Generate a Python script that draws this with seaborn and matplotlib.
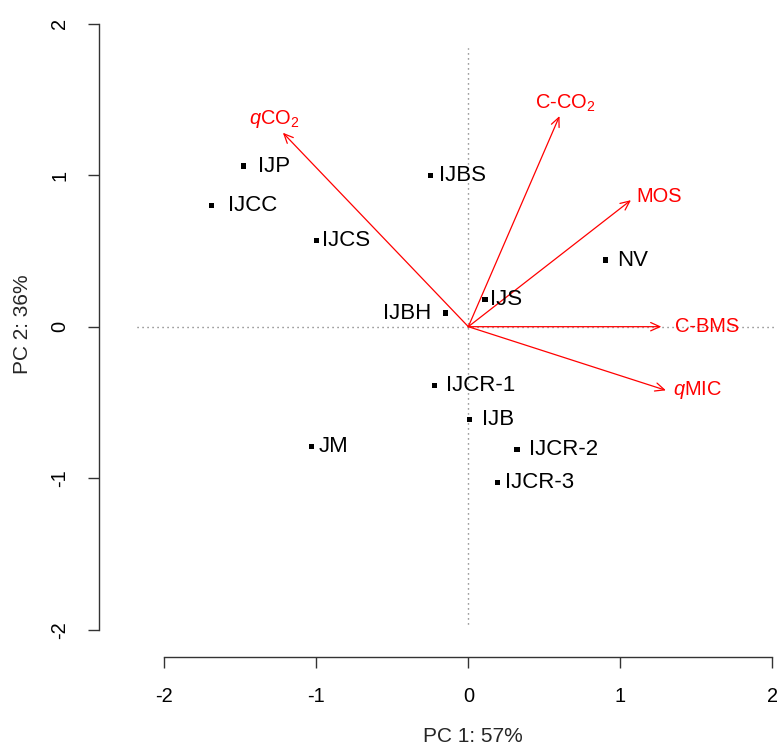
import numpy as np
import pandas as pd
import matplotlib
matplotlib.use("Agg")
import matplotlib.pyplot as plt
import seaborn as sns

# ---------------- data ----------------
sites = ["IJP", "IJCC", "IJCS", "IJBS", "NV", "IJS", "IJBH",
         "IJCR-1", "IJB", "IJCR-2", "JM", "IJCR-3"]
pc1_scores = [-1.48, -1.69, -1.00, -0.25, 0.90, 0.11, -0.15,
              -0.22, 0.01, 0.32, -1.03, 0.19]
pc2_scores = [1.06, 0.80, 0.57, 1.00, 0.44, 0.18, 0.09,
              -0.39, -0.61, -0.81, -0.79, -1.03]

variables = ["$q$CO$_2$", "C-CO$_2$", "MOS", "C-BMS", "$q$MIC"]
pc1_loadings = [-1.22, 0.60, 1.07, 1.27, 1.30]
pc2_loadings = [1.28, 1.39, 0.835, 0.0, -0.42]

xlabel = "PC 1: 57%"
ylabel = "PC 2: 36%"
ticks = [-2, -1, 0, 1, 2]

# label placement (offsets in pixels, style only)
site_label_offset = {"IJP": 15, "IJCC": 17, "IJCS": 6, "IJBS": 9, "NV": 12,
                     "IJS": 5, "IJBH": -14, "IJCR-1": 11, "IJB": 12,
                     "IJCR-2": 12, "JM": 7, "IJCR-3": 8}
var_label_offset = [(-9, 14, "center"), (6, 13, "center"), (5, 4, "left"),
                    (14, 0, "left"), (7, 0, "left")]

# ---------------- style ----------------
sns.set_theme(style="white")
plt.rcParams["font.family"] = ["Liberation Sans", "DejaVu Sans"]
plt.rcParams["mathtext.fontset"] = "custom"
plt.rcParams["mathtext.rm"] = "Liberation Sans"
plt.rcParams["mathtext.it"] = "Liberation Sans:italic"
plt.rcParams["mathtext.bf"] = "Liberation Sans:bold"

W, H = 777, 749
fig = plt.figure(figsize=(W / 100, H / 100), dpi=100)
# axes box in pixels: left 99, right 777, top 0, bottom 657
ax = fig.add_axes([99 / W, (H - 657) / H, (777 - 99) / W, 657 / H])

px = 0.72  # points per pixel

df = pd.DataFrame({"site": sites, "PC1": pc1_scores, "PC2": pc2_scores})

# reference dotted lines
ax.plot([-2.18, 2.1], [0, 0], color="#666666", lw=1.0,
        linestyle=(0, (0.8, 2.8)), zorder=1)
ax.plot([0, 0], [-1.96, 1.84], color="#666666", lw=1.0,
        linestyle=(0, (0.8, 2.8)), zorder=1)

# scores
sns.scatterplot(data=df, x="PC1", y="PC2", marker="s", s=14, color="black",
                edgecolor="none", linewidth=0, ax=ax, zorder=3, legend=False)
for name, x, y in zip(sites, pc1_scores, pc2_scores):
    off = site_label_offset[name]
    ax.annotate(name, (x, y), xytext=(off * px, 0), textcoords="offset points",
                ha="left" if off > 0 else "right", va="center",
                fontsize=16, color="black", zorder=4)

# loadings arrows
for lab, x, y, (dx, dy, ha) in zip(variables, pc1_loadings, pc2_loadings,
                                    var_label_offset):
    ax.annotate("", xy=(x, y), xytext=(0, 0),
                arrowprops=dict(arrowstyle="->,head_length=0.55,head_width=0.25",
                                color="red", lw=0.9, shrinkA=0, shrinkB=0,
                                mutation_scale=12), zorder=2)
    ax.annotate(lab, (x, y), xytext=(dx * px, dy * px),
                textcoords="offset points", ha=ha, va="center",
                fontsize=14.4, color="red", zorder=4)

# axes
ax.set_xlim(-2.43, 2.031)
ax.set_ylim(-2.18, 2.156)
ax.set_xticks(ticks)
ax.set_yticks(ticks)
ax.set_xticklabels([str(t) for t in ticks])
ax.set_yticklabels([str(t) for t in ticks], rotation=90, va="center")
for s in ["top", "right"]:
    ax.spines[s].set_visible(False)
for s in ["left", "bottom"]:
    ax.spines[s].set_color("#333333")
    ax.spines[s].set_linewidth(1.0)
ax.spines["left"].set_bounds(-2, 2)
ax.spines["bottom"].set_bounds(-2, 2)
ax.tick_params(axis="both", direction="out", length=8, width=1.0,
               color="#333333", labelsize=14.4, labelcolor="black", pad=13.5,
               left=True, bottom=True)

ax.set_xlabel(xlabel, fontsize=15, va="center")
ax.set_ylabel(ylabel, fontsize=15, va="center")
ax.xaxis.set_label_coords((473 - 99) / 678, (657 - 736) / 657)
ax.yaxis.set_label_coords((23 - 99) / 678, (657 - 324) / 657)

fig.savefig("out.png", dpi=100)
